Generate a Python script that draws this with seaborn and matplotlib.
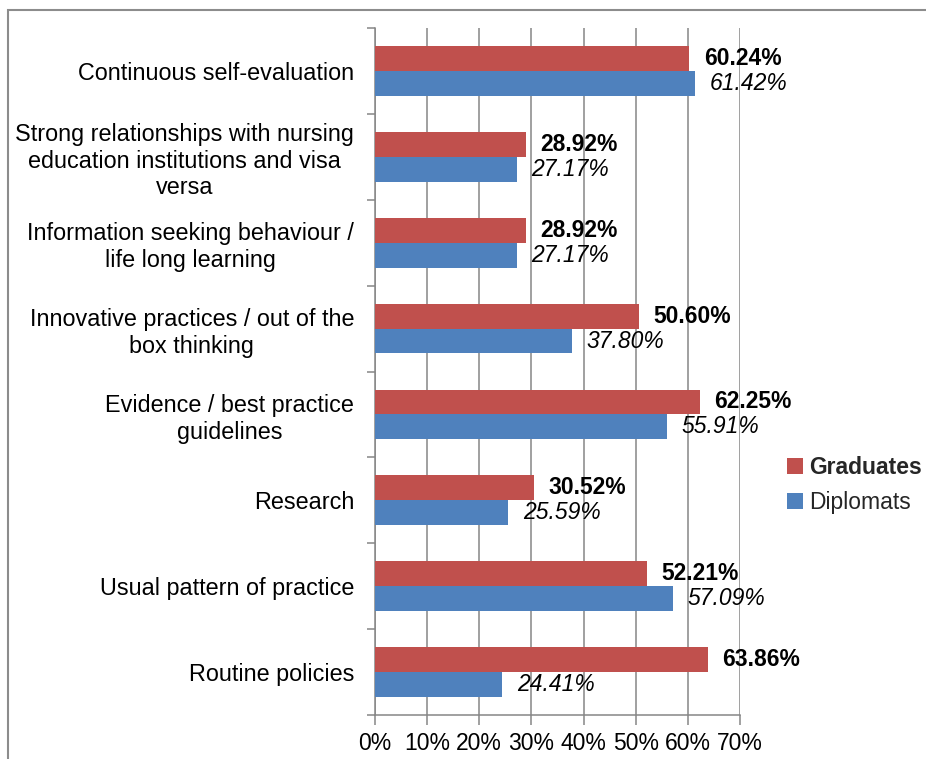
import matplotlib
matplotlib.use("Agg")
import matplotlib.pyplot as plt
import seaborn as sns
import pandas as pd
import numpy as np
from matplotlib.patches import Rectangle, Patch

categories = [
    "Continuous self-evaluation",
    "Strong relationships with nursing\neducation institutions and visa\nversa",
    "Information seeking behaviour /\nlife long learning",
    "Innovative practices / out of the\nbox thinking",
    "Evidence / best practice\nguidelines",
    "Research",
    "Usual pattern of practice",
    "Routine policies",
]
graduates = [60.24, 28.92, 28.92, 50.60, 62.25, 30.52, 52.21, 63.86]
diplomats = [61.42, 27.17, 27.17, 37.80, 55.91, 25.59, 57.09, 24.41]
series = ["Graduates", "Diplomats"]
xticks = [0, 10, 20, 30, 40, 50, 60, 70]

red = "#C0504D"
blue = "#4F81BD"
grid_c = "#868686"

sns.set_theme(style="white")
plt.rcParams['font.family'] = ['Arial', 'Liberation Sans', 'DejaVu Sans']

df = pd.DataFrame({
    "category": categories * 2,
    "value": graduates + diplomats,
    "series": [series[0]] * len(categories) + [series[1]] * len(categories),
})

fig = plt.figure(figsize=(9.26, 7.59), dpi=100)
ax = fig.add_axes([375/926, 1-715/759, (740-375)/926, (715-28)/759])

sns.barplot(data=df, y="category", x="value", hue="series", orient="h",
            palette=[red, blue], width=0.58, gap=0, ax=ax, legend=False,
            saturation=1, edgecolor="none", linewidth=0, zorder=3)

ax.set_xlim(0, 70)
ax.set_ylim(len(categories) - 0.5, -0.5)
ax.set_xlabel("")
ax.set_ylabel("")

ax.set_xticks(xticks)
ax.set_xticklabels([f"{v}%" for v in xticks], fontsize=16.5, color="black")
ax.xaxis.grid(True, color=grid_c, linewidth=1.1, zorder=0)
ax.set_axisbelow(True)
ax.tick_params(axis="x", direction="out", length=7, width=1.1, color=grid_c, pad=5, bottom=True)

ax.set_yticks(range(len(categories)))
ax.set_yticklabels(categories, fontsize=16.8, color="black", multialignment="center")
ax.tick_params(axis="y", which="major", length=0, pad=15)
ax.set_yticks(np.arange(-0.5, len(categories), 1), minor=True)
ax.tick_params(axis="y", which="minor", direction="out", length=6, width=1.1, color=grid_c, left=True)

for s in ["top", "right"]:
    ax.spines[s].set_visible(False)
for s in ["left", "bottom"]:
    ax.spines[s].set_color(grid_c)
    ax.spines[s].set_linewidth(1.1)

# value labels
containers = ax.containers
ax.bar_label(containers[0], labels=[f"{v:.2f}%" for v in graduates], padding=10.5,
             fontsize=16.5, fontweight="bold", color="black")
ax.bar_label(containers[1], labels=[f"{v:.2f}%" for v in diplomats], padding=10.5,
             fontsize=16.5, fontstyle="italic", color="black")

handles = [Patch(facecolor=red, edgecolor="none"), Patch(facecolor=blue, edgecolor="none")]
leg = fig.legend(handles, series, loc="center left", bbox_to_anchor=(782/926, 1-485/759),
                 frameon=False, fontsize=16.5, handlelength=0.7, handleheight=0.7,
                 handletextpad=0.3, labelspacing=0.55, borderaxespad=0, borderpad=0.2)
leg.get_texts()[0].set_fontweight("bold")

fig.patches.append(Rectangle((8/926, -0.1), 1.2, 1 - 10/759 + 0.1, transform=fig.transFigure,
                             fill=False, edgecolor="#8c8c8c", linewidth=1.5))

fig.savefig("out.png", dpi=100)
